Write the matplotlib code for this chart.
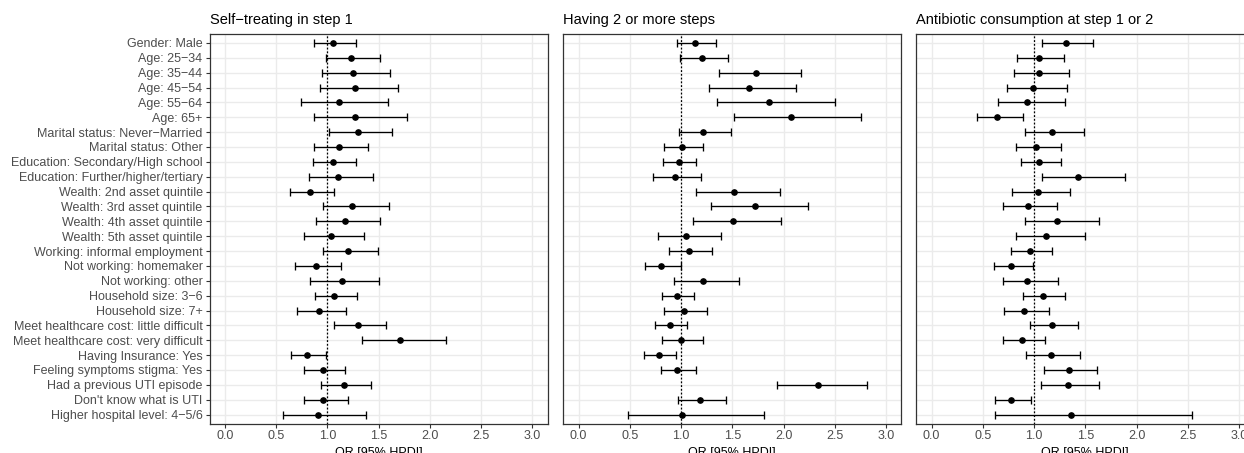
import matplotlib
matplotlib.use("Agg")
import matplotlib.pyplot as plt

plt.rcParams['font.family'] = ['Liberation Sans', 'DejaVu Sans']

# ---- data: odds ratios with 95% HPDI ----
labels = [
    "Gender: Male", "Age: 25−34", "Age: 35−44", "Age: 45−54", "Age: 55−64",
    "Age: 65+", "Marital status: Never−Married", "Marital status: Other",
    "Education: Secondary/High school", "Education: Further/higher/tertiary",
    "Wealth: 2nd asset quintile", "Wealth: 3rd asset quintile",
    "Wealth: 4th asset quintile", "Wealth: 5th asset quintile",
    "Working: informal employment", "Not working: homemaker",
    "Not working: other", "Household size: 3−6", "Household size: 7+",
    "Meet healthcare cost: little difficult", "Meet healthcare cost: very difficult",
    "Having Insurance: Yes", "Feeling symptoms stigma: Yes",
    "Had a previous UTI episode", "Don't know what is UTI",
    "Higher hospital level: 4−5/6",
]

titles = ["Self−treating in step 1", "Having 2 or more steps",
          "Antibiotic consumption at step 1 or 2"]

self_treat_or = [1.058, 1.231, 1.247, 1.267, 1.113, 1.270, 1.299, 1.113, 1.055, 1.100,
                 0.829, 1.244, 1.172, 1.038, 1.205, 0.888, 1.139, 1.068, 0.921, 1.296,
                 1.714, 0.803, 0.960, 1.162, 0.963, 0.914]
self_treat_lo = [0.868, 0.989, 0.950, 0.924, 0.741, 0.875, 1.019, 0.875, 0.862, 0.823,
                 0.633, 0.957, 0.891, 0.777, 0.960, 0.686, 0.836, 0.881, 0.705, 1.061,
                 1.342, 0.646, 0.777, 0.937, 0.770, 0.568]
self_treat_hi = [1.280, 1.518, 1.613, 1.694, 1.596, 1.783, 1.632, 1.394, 1.280, 1.450,
                 1.068, 1.603, 1.515, 1.358, 1.499, 1.136, 1.508, 1.286, 1.182, 1.574,
                 2.161, 0.989, 1.172, 1.430, 1.198, 1.381]

steps_or = [1.139, 1.205, 1.730, 1.659, 1.858, 2.073, 1.214, 1.012, 0.976, 0.940,
            1.518, 1.717, 1.502, 1.051, 1.077, 0.803, 1.214, 0.957, 1.025, 0.888,
            0.999, 0.787, 0.963, 2.341, 1.188, 1.009]
steps_lo = [0.963, 0.986, 1.368, 1.273, 1.352, 1.521, 0.976, 0.836, 0.823, 0.722,
            1.149, 1.290, 1.120, 0.777, 0.885, 0.643, 0.934, 0.813, 0.829, 0.744,
            0.810, 0.637, 0.803, 1.933, 0.973, 0.480]
steps_hi = [1.339, 1.459, 2.168, 2.125, 2.498, 2.759, 1.492, 1.218, 1.149, 1.198,
            1.969, 2.236, 1.972, 1.394, 1.303, 0.996, 1.561, 1.123, 1.257, 1.058,
            1.218, 0.953, 1.149, 2.811, 1.440, 1.809]

abx_or = [1.309, 1.049, 1.049, 0.993, 0.932, 0.642, 1.173, 1.023, 1.052, 1.433,
          1.042, 0.938, 1.228, 1.121, 0.958, 0.779, 0.932, 1.085, 0.902, 1.176,
          0.886, 1.163, 1.339, 1.329, 0.779, 1.365]
abx_lo = [1.075, 0.837, 0.805, 0.736, 0.645, 0.446, 0.912, 0.821, 0.870, 1.075,
          0.788, 0.700, 0.909, 0.821, 0.772, 0.609, 0.694, 0.896, 0.710, 0.961,
          0.700, 0.925, 1.101, 1.072, 0.619, 0.622]
abx_hi = [1.580, 1.293, 1.342, 1.319, 1.303, 0.893, 1.485, 1.261, 1.267, 1.886,
          1.355, 1.228, 1.629, 1.498, 1.179, 0.987, 1.231, 1.306, 1.143, 1.430,
          1.111, 1.453, 1.619, 1.635, 0.967, 2.544]

x_ticks = [0.0, 0.5, 1.0, 1.5, 2.0, 2.5, 3.0]

panels = [
    (self_treat_or, self_treat_lo, self_treat_hi),
    (steps_or, steps_lo, steps_hi),
    (abx_or, abx_lo, abx_hi),
]

# ---- figure ----
W, H = 1244, 453
fig = plt.figure(figsize=(W / 100, H / 100), dpi=100)

lefts = [209.5, 563.3, 916.3]
pw = 338.0
top_px, bot_px = 34.0, 423.5

grid_col = '#EBEBEB'
text_col = '#4D4D4D'
frame_col = '#333333'

rows = list(range(1, len(labels) + 1))

for i, (title, (orv, lo, hi)) in enumerate(zip(titles, panels)):
    ax = fig.add_axes([lefts[i] / W, 1 - bot_px / H, pw / W, (bot_px - top_px) / H])
    ax.set_xlim(-0.15, 3.15)
    ax.set_ylim(26.6, 0.4)
    ax.set_axisbelow(True)

    ax.set_xticks(x_ticks)
    ax.set_xticklabels([f"{t:.1f}" for t in x_ticks])
    ax.set_yticks(rows)
    if i == 0:
        ax.set_yticklabels(labels)
        ax.tick_params(axis='y', length=3, width=0.8, color=frame_col,
                       labelsize=9, labelcolor=text_col, pad=2)
    else:
        ax.set_yticklabels([])
        ax.tick_params(axis='y', length=0)
    ax.tick_params(axis='x', length=3, width=0.8, color=frame_col,
                   labelsize=9, labelcolor=text_col, pad=2)

    ax.grid(True, color=grid_col, linewidth=1.0)
    for s in ax.spines.values():
        s.set_color(frame_col)
        s.set_linewidth(0.9)

    ax.axvline(1.0, color='black', linestyle=(0, (1.5, 1.5)), linewidth=0.9, zorder=2)

    xerr = [[o - l for o, l in zip(orv, lo)], [h - o for o, h in zip(orv, hi)]]
    ax.errorbar(orv, rows, xerr=xerr, fmt='o', color='black', ecolor='black',
                markersize=3.8, elinewidth=0.95, capsize=2.6, capthick=0.95, zorder=3)

    ax.set_title(title, loc='left', fontsize=10.5, color='black', pad=7)
    ax.set_xlabel("OR [95% HPDI]", fontsize=9, color='black', labelpad=3)

fig.savefig("out.png", dpi=100)
